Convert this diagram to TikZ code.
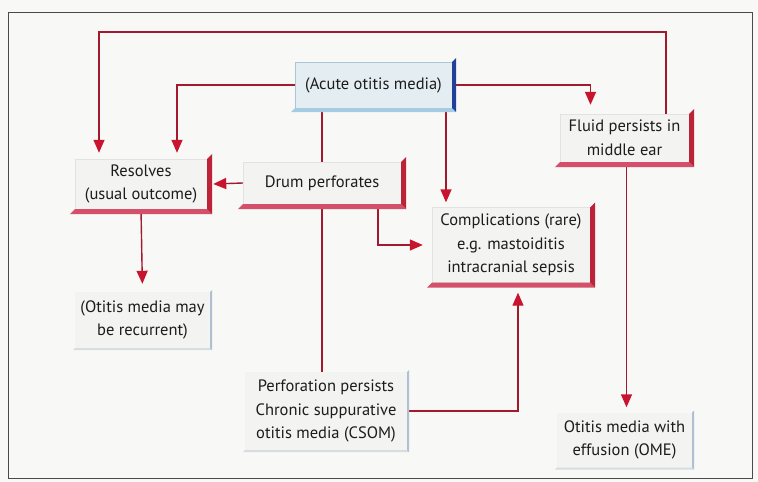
\documentclass[tikz,border=0pt]{standalone}
\usepackage{fontspec}
\setmainfont{PT Sans}
\usetikzlibrary{arrows.meta}
\pgfdeclarelayer{bg}
\pgfsetlayers{bg,main}
\definecolor{paper}{HTML}{F8F8F6}
\definecolor{lnred}{HTML}{A3192D}
\definecolor{tipred}{HTML}{C8142E}
\definecolor{barred}{HTML}{BC2238}
\definecolor{barpink}{HTML}{D4506A}
\definecolor{facefill}{HTML}{F3F3F2}
\definecolor{facedraw}{HTML}{E2E2E2}
\definecolor{bluefill}{HTML}{E4EDF2}
\definecolor{bluedraw}{HTML}{A9C6D8}
\definecolor{bardblue}{HTML}{22409A}
\definecolor{barlblue}{HTML}{A5CCE4}
\definecolor{bargray}{HTML}{AFC0D2}
\definecolor{barlgray}{HTML}{D6DCE2}
\definecolor{frame}{HTML}{4A4A4A}
\definecolor{txt}{HTML}{1C1C1C}
\tikzset{
  face/.style={fill=facefill, draw=facedraw, line width=0.4pt, inner sep=0pt,
    align=center, text=txt, font=\fontsize{16.5}{23.5}\selectfont},
  blueface/.style={face, fill=bluefill, draw=bluedraw},
  conn/.style={draw=lnred, line width=1.4pt},
  arr/.style={conn, -{Triangle[length=13pt,width=11pt,color=tipred]}},
}
\newcommand\bevelbox[4]{%
  \fill[#4] (#1.south east) -- ([shift={(#2,#2)}]#1.south east)
     -- ([shift={(-#2,#2)}]#1.south west) -- (#1.south west) -- cycle;
  \fill[#3] (#1.north east) -- ([shift={(#2,-#2)}]#1.north east)
     -- ([shift={(#2,#2)}]#1.south east) -- (#1.south east) -- cycle;
}
\begin{document}
\begin{tikzpicture}[x=1pt,y=-1pt]
\useasboundingbox (0,0) rectangle (758,482);
\begin{pgfonlayer}{bg}
  \fill[paper] (0,0) rectangle (758,482);
\end{pgfonlayer}
\draw[frame, line width=1pt] (8,12) rectangle (752,478);

% boxes
\node[blueface, minimum width=157pt, minimum height=46pt] (acute) at (373.5,85) {(Acute otitis media)};
\bevelbox{acute}{4}{bardblue}{barlblue}

\node[face, minimum width=132pt, minimum height=50pt] (resolves) at (141,184) {Resolves\\(usual outcome)};
\bevelbox{resolves}{5}{barred}{barpink}

\node[face, minimum width=158pt, minimum height=42pt] (drum) at (322,183) {Drum perforates};
\bevelbox{drum}{5}{barred}{barpink}

\node[face, minimum width=158pt, minimum height=75pt] (compl) at (511,245) {Complications (rare)\\e.g. mastoiditis\\intracranial sepsis};
\bevelbox{compl}{5}{barred}{barpink}

\node[face, minimum width=129pt, minimum height=48pt] (fluid) at (624.5,138) {Fluid persists in\\middle ear};
\bevelbox{fluid}{5}{barred}{barpink}

\node[face, draw=none, minimum width=135pt, minimum height=56pt] (recur) at (142.5,320) {(Otitis media may\\be recurrent)};
\bevelbox{recur}{2}{bargray}{barlgray}

\node[face, draw=none, minimum width=162pt, minimum height=78pt] (csom) at (326,411) {Perforation persists\\Chronic suppurative\\otitis media (CSOM)};
\bevelbox{csom}{2}{bargray}{barlgray}

\node[face, draw=none, minimum width=135pt, minimum height=55pt] (ome) at (624.5,440) {Otitis media with\\effusion (OME)};
\bevelbox{ome}{2}{bargray}{barlgray}

\coordinate (loopL) at (99,32);

\begin{pgfonlayer}{bg}
  \draw[arr, shorten >=6pt] ([xshift=41.5pt]fluid.north) |- (loopL) -- (loopL |- resolves.north);
  \draw[arr, shorten >=6pt] (acute.west) -| ([xshift=36pt]resolves.north);
  \draw[arr, shorten >=9pt] (acute.east) -| ([xshift=-34pt]fluid.north);
  \draw[conn] (acute.south -| drum.north) -- (drum.north);
  \draw[arr, shorten >=5pt] ([xshift=-65pt]compl.north |- acute.south) -- ([xshift=-65pt]compl.north);
  \draw[arr] (drum.west) -- ([xshift=6pt]resolves.east);
  \draw[arr, shorten >=9pt] ([xshift=56pt]drum.south) |- (compl.west);
  \draw[conn] (drum.south) -- (drum.south |- csom.north);
  \draw[arr, shorten >=8pt] (resolves.south) -- (recur.north);
  \draw[arr, shorten >=10pt] (csom.east) -| ([xshift=7pt]compl.south);
  \draw[arr, shorten >=5pt] ([xshift=2pt]fluid.south) -- ([xshift=2pt]ome.north);
\end{pgfonlayer}
\end{tikzpicture}
\end{document}
